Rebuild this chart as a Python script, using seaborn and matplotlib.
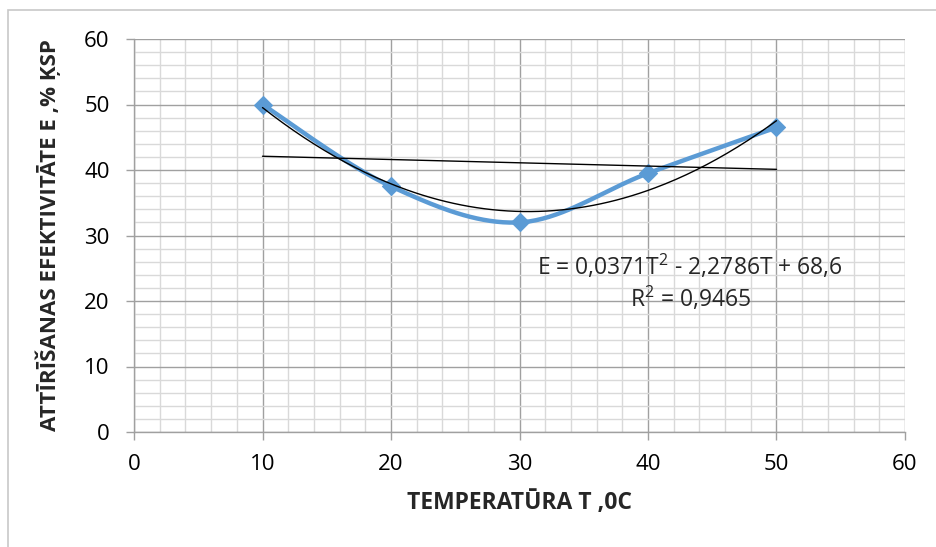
import numpy as np
import pandas as pd
import matplotlib
matplotlib.use("Agg")
import matplotlib.pyplot as plt
import seaborn as sns
from matplotlib.patches import Rectangle

# ---- data ----
temperature = [10, 20, 30, 40, 50]
efficiency = [50, 37.5, 32, 39.5, 46.5]
x_ticks = [0, 10, 20, 30, 40, 50, 60]
y_ticks = [0, 10, 20, 30, 40, 50, 60]
x_label = "TEMPERATŪRA T ,0C"
y_label = "ATTĪRĪŠANAS EFEKTIVITĀTE E ,% ĶSP"
eq_text = "E = 0,0371T$^{2}$ - 2,2786T + 68,6\nR$^{2}$ = 0,9465"

sns.set_theme(style="white")
plt.rcParams["font.family"] = ["Open Sans", "DejaVu Sans"]
plt.rcParams["mathtext.fontset"] = "custom"
plt.rcParams["mathtext.rm"] = "Open Sans"

df = pd.DataFrame({"T": temperature, "E": efficiency})

# smooth (Catmull-Rom, like Excel smoothed line) for drawing
def catmull_rom(x, y, n=40):
    x = np.asarray(x, float); y = np.asarray(y, float)
    px = np.concatenate([[x[0]], x, [x[-1]]])
    py = np.concatenate([[y[0]], y, [y[-1]]])
    xs, ys = [], []
    for i in range(1, len(px) - 2):
        p0, p1, p2, p3 = [np.array([px[j], py[j]]) for j in (i - 1, i, i + 1, i + 2)]
        c1 = p1 + (p2 - p0) / 6
        c2 = p2 - (p3 - p1) / 6
        t = np.linspace(0, 1, n)[:, None]
        pts = (1 - t) ** 3 * p1 + 3 * (1 - t) ** 2 * t * c1 + 3 * (1 - t) * t ** 2 * c2 + t ** 3 * p2
        xs.extend(pts[:, 0]); ys.extend(pts[:, 1])
    return np.array(xs), np.array(ys)

sx, sy = catmull_rom(temperature, efficiency)
smooth_df = pd.DataFrame({"T": sx, "E": sy})

# trendlines from fits of the data
quad = np.polyfit(temperature, efficiency, 2)
lin = np.polyfit(temperature, efficiency, 1)
tt = np.linspace(min(temperature), max(temperature), 200)
quad_df = pd.DataFrame({"T": tt, "E": np.polyval(quad, tt)})
lin_df = pd.DataFrame({"T": tt, "E": np.polyval(lin, tt)})

fig = plt.figure(figsize=(9.36, 5.47), dpi=100)
ax = fig.add_axes([134 / 936, 1 - 432 / 547, (905 - 134) / 936, (432 - 39) / 547])

# outer chart border
fig.patches.append(Rectangle((8 / 936, -0.2), 1.2, 1 - 10 / 547 + 0.2, transform=fig.transFigure,
                             fill=False, edgecolor="#c8c8c8", linewidth=1.2))

blue = "#5B9BD5"
ax.plot(smooth_df["T"], smooth_df["E"], color=blue, linewidth=3.2, zorder=3, solid_capstyle="round")
sns.scatterplot(data=df, x="T", y="E", marker="D", s=85, color=blue, edgecolor=blue, ax=ax, zorder=4)
sns.lineplot(data=quad_df, x="T", y="E", color="black", linewidth=1.0, ax=ax, zorder=5)
sns.lineplot(data=lin_df, x="T", y="E", color="black", linewidth=1.0, ax=ax, zorder=5)

ax.set_xlim(0, 60)
ax.set_ylim(0, 60)
ax.set_xticks(x_ticks)
ax.set_yticks(y_ticks)
ax.set_xticks(np.arange(0, 61, 2), minor=True)
ax.set_yticks(np.arange(0, 61, 2), minor=True)
ax.grid(which="minor", color="#d9d9d9", linewidth=1.0, zorder=0)
ax.grid(which="major", color="#a0a0a0", linewidth=1.0, zorder=1)
ax.set_axisbelow(True)

for s in ["top", "right"]:
    ax.spines[s].set_visible(False)
for s in ["left", "bottom"]:
    ax.spines[s].set_color("#a0a0a0")
    ax.spines[s].set_linewidth(1.0)

ax.tick_params(axis="both", which="major", direction="out", length=5.5, width=1.0, color="#a0a0a0",
               labelsize=16, labelcolor="black", bottom=True, left=True)
ax.tick_params(axis="x", which="major", pad=10)
ax.tick_params(axis="y", which="major", pad=12)
ax.tick_params(axis="both", which="minor", length=0)

ax.set_xlabel(x_label, fontsize=16.5, fontweight="bold", labelpad=12)
ax.set_ylabel(y_label, fontsize=16, fontweight="bold", labelpad=17)

ax.text(43.3, 22.8, eq_text, fontsize=16.5, ha="center", va="center", multialignment="center",
        linespacing=1.2, zorder=6)

fig.savefig("out.png", dpi=100)
